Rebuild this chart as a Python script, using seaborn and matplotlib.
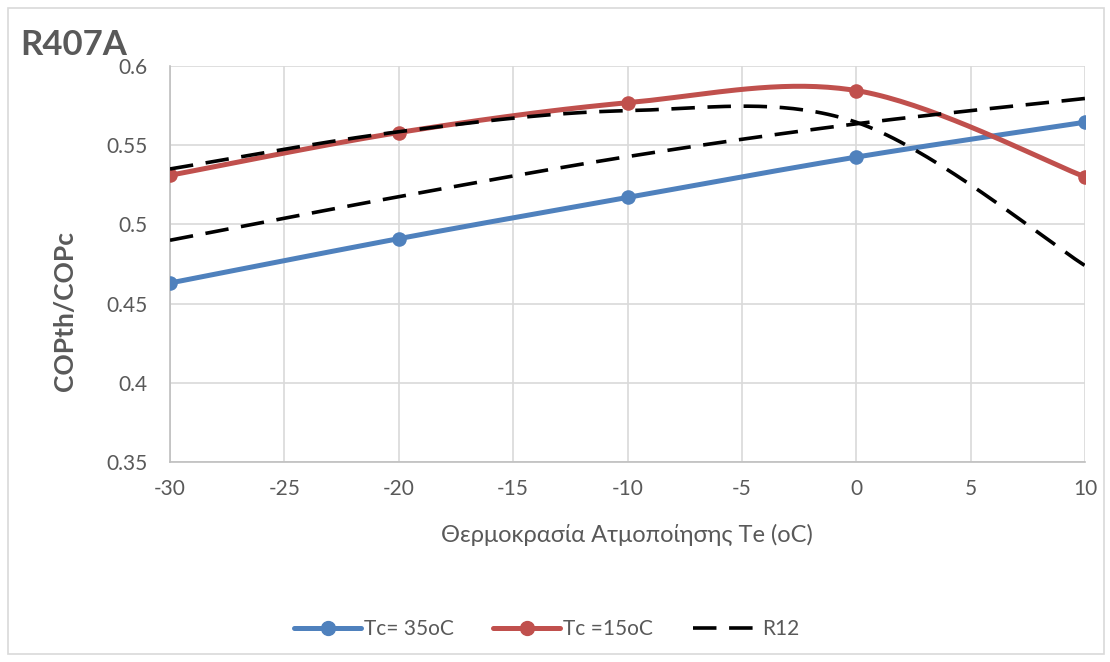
import numpy as np
import pandas as pd
import matplotlib
matplotlib.use("Agg")
import matplotlib.pyplot as plt
from matplotlib.lines import Line2D
from matplotlib.patches import Rectangle
import seaborn as sns

# Evaporation temperature Te (oC)
te = [-30, -20, -10, 0, 10]
# COPth/COPc ratios
tc35 = [0.463, 0.491, 0.517, 0.5425, 0.5645]
tc15 = [0.531, 0.558, 0.5768, 0.5845, 0.530]
r12_a = [0.535, 0.5585, 0.5718, 0.5645, 0.474]
r12_b = [0.490, 0.5175, 0.5428, 0.5635, 0.5795]

x_ticks = [-30, -25, -20, -15, -10, -5, 0, 5, 10]
y_ticks = [0.35, 0.4, 0.45, 0.5, 0.55, 0.6]
y_tick_labels = ["0.35", "0.4", "0.45", "0.5", "0.55", "0.6"]


def smooth(xs, ys, n=40):
    """Bezier smoothing through the points (spreadsheet-style smoothed line)."""
    p = np.column_stack([xs, ys]).astype(float)
    ext = np.vstack([p[0], p, p[-1]])
    out = []
    for i in range(len(p) - 1):
        p0, p1, p2, p3 = ext[i], ext[i + 1], ext[i + 2], ext[i + 3]
        c1 = p1 + (p2 - p0) / 6.0
        c2 = p2 - (p3 - p1) / 6.0
        t = np.linspace(0, 1, n, endpoint=(i == len(p) - 2))[:, None]
        seg = ((1 - t) ** 3) * p1 + 3 * ((1 - t) ** 2) * t * c1 + 3 * (1 - t) * t ** 2 * c2 + t ** 3 * p2
        out.append(seg)
    c = np.vstack(out)
    return pd.DataFrame({"x": c[:, 0], "y": c[:, 1]})


sns.set_theme(style="white")
plt.rcParams["font.family"] = ["Lato", "DejaVu Sans"]
plt.rcParams["axes.unicode_minus"] = False

fig = plt.figure(figsize=(11.1, 6.62), dpi=100)
ax = fig.add_axes([170 / 1110, 1 - 462 / 662, 915 / 1110, 396 / 662])

blue = "#4f81bd"
red = "#c0504d"
grid_c = "#d9d9d9"
text_c = "#595959"

# Smoothed lines
sns.lineplot(data=smooth(te, tc35), x="x", y="y", ax=ax, color=blue, lw=3.6,
             sort=False, estimator=None, zorder=3)
sns.scatterplot(x=te, y=tc35, ax=ax, color=blue, s=110, edgecolor=blue, linewidth=0, zorder=4)
sns.lineplot(data=smooth(te, tc15), x="x", y="y", ax=ax, color=red, lw=3.6,
             sort=False, estimator=None, zorder=3)
sns.scatterplot(x=te, y=tc15, ax=ax, color=red, s=110, edgecolor=red, linewidth=0, zorder=4)
for series in (r12_b, r12_a):
    d = smooth(te, series)
    ax.plot(d["x"], d["y"], color="black", lw=2.6, dashes=(6.5, 3.5), zorder=5)

ax.set_xlim(-30, 10)
ax.set_ylim(0.35, 0.6)
ax.set_xticks(x_ticks)
ax.set_xticklabels([str(v) for v in x_ticks])
ax.set_yticks(y_ticks)
ax.set_yticklabels(y_tick_labels)
ax.tick_params(axis="both", length=0, labelsize=15, labelcolor=text_c)
ax.tick_params(axis="y", pad=16)
ax.tick_params(axis="x", pad=12)
ax.grid(True, color=grid_c, lw=1.2)
for side in ("top", "right"):
    ax.spines[side].set_visible(False)
for side in ("left", "bottom"):
    ax.spines[side].set_color("#bfbfbf")
    ax.spines[side].set_linewidth(1.2)
ax.set_xlabel("")
ax.set_ylabel("")

fig.text(627 / 1110, 1 - 535 / 662, "Θερμοκρασία Ατμοποίησης Te (oC)", ha="center", va="center",
         fontsize=17, color=text_c)
fig.text(65 / 1110, 1 - 311 / 662, "COPth/COPc", ha="center", va="center", rotation=90,
         fontsize=19, fontweight="bold", color=text_c)
fig.text(20 / 1110, 1 - 55 / 662, "R407A", ha="left", va="baseline",
         fontsize=25, fontweight="bold", color=text_c)

handles = [
    Line2D([], [], color=blue, lw=3.6, marker="o", markersize=10),
    Line2D([], [], color=red, lw=3.6, marker="o", markersize=10),
    Line2D([], [], color="black", lw=2.6, dashes=(6.5, 3.5)),
]
fig.legend(handles, ["Tc= 35oC", "Tc =15oC", "R12"], loc="center", ncol=3,
           bbox_to_anchor=(547 / 1110, 1 - 629 / 662), frameon=False, fontsize=15,
           labelcolor=text_c, handlelength=3.2, handletextpad=0.15, columnspacing=1.9)

fig.patches.append(Rectangle((8 / 1110, 8 / 662), 1096 / 1110, 646 / 662, transform=fig.transFigure,
                             fill=False, edgecolor="#d9d9d9", lw=1.2))

fig.savefig("out.png", dpi=100, facecolor="white")
